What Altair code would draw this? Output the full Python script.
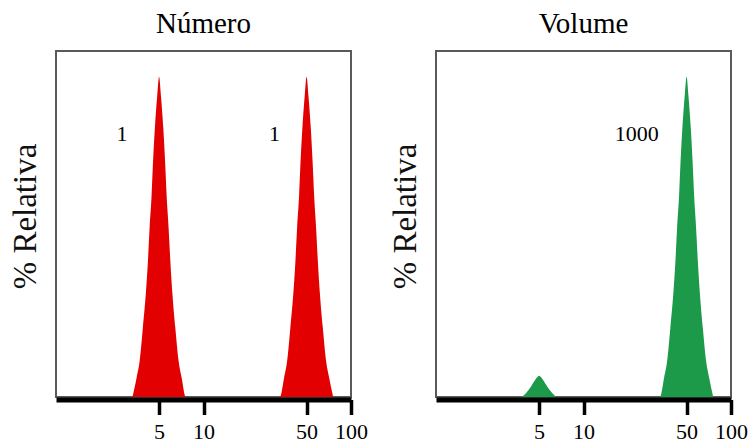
import altair as alt
import pandas as pd

# Particle size distributions (diameter, nm) on a log axis
TICKS = [5, 10, 50, 100]

# Number-weighted distribution: two equal populations at 5 nm and 50 nm
num_size = [3.30, 3.52, 3.69, 3.88, 4.06, 4.20, 4.31, 4.45, 4.55, 4.68, 4.86, 5.00,
            5.14, 5.34, 5.49, 5.62, 5.80, 5.96, 6.16, 6.44, 6.78, 7.11, 7.57,
            33.0, 35.2, 36.9, 38.8, 40.6, 42.0, 43.1, 44.5, 45.5, 46.8, 48.6, 50.0,
            51.4, 53.4, 54.9, 56.2, 58.0, 59.6, 61.6, 64.4, 67.8, 71.1, 75.7]
num_pct = [0, 6.0, 11.2, 21.6, 32.0, 42.4, 52.7, 63.1, 73.5, 83.9, 94.3, 100,
           94.3, 83.9, 73.5, 63.1, 52.7, 42.4, 32.0, 21.6, 11.2, 6.0, 0,
           0, 6.0, 11.2, 21.6, 32.0, 42.4, 52.7, 63.1, 73.5, 83.9, 94.3, 100,
           94.3, 83.9, 73.5, 63.1, 52.7, 42.4, 32.0, 21.6, 11.2, 6.0, 0]

# Volume-weighted distribution: the 50 nm population dominates
vol_size = [3.77, 3.96, 4.15, 4.41, 4.70, 5.00, 5.32, 5.67, 6.03, 6.32, 6.63,
            33.0, 35.2, 36.9, 38.8, 40.6, 42.0, 43.1, 44.5, 45.5, 46.8, 48.6, 50.0,
            51.4, 53.4, 54.9, 56.2, 58.0, 59.6, 61.6, 64.4, 67.8, 71.1, 75.7]
vol_pct = [0, 0.66, 1.65, 3.3, 5.3, 6.6, 5.3, 3.3, 1.65, 0.66, 0,
           0, 6.0, 11.2, 21.6, 32.0, 42.4, 52.7, 63.1, 73.5, 83.9, 94.3, 100,
           94.3, 83.9, 73.5, 63.1, 52.7, 42.4, 32.0, 21.6, 11.2, 6.0, 0]

# Relative weight annotations
num_label_size = [2.8, 30.3]
num_label_pct = [82, 82]
num_label_text = ["1", "1"]
vol_label_size = [23.0]
vol_label_pct = [82]
vol_label_text = ["1000"]

SERIF = "Liberation Serif"

x_scale = alt.Scale(type="log", domain=[1, 100], nice=False)
y_scale = alt.Scale(domain=[0, 108], nice=False, zero=True)

x_axis = alt.Axis(values=TICKS, format="d", title=None, grid=False,
                  domainColor="black", domainWidth=5, offset=2.5,
                  tickColor="black", tickWidth=3.5, tickSize=15,
                  labelFont=SERIF, labelFontSize=22, labelColor="black",
                  labelPadding=7, labelFlush=False, labelOverlap=False,
                  labelBound=False)
y_axis = alt.Axis(title="% Relativa", titleFont=SERIF, titleFontSize=33,
                  titleFontWeight="normal", titleColor="#111111",
                  ticks=False, labels=False, domain=False, grid=False,
                  titlePadding=14, titleY=165)


def panel(title, sizes, pcts, lsize, lpct, ltext, color):
    curve = pd.DataFrame({"size": sizes, "pct": pcts})
    notes = pd.DataFrame({"size": lsize, "pct": lpct, "text": ltext})
    area = alt.Chart(curve).mark_area(color=color, opacity=1,
                                      interpolate="monotone").encode(
        x=alt.X("size:Q", scale=x_scale, axis=x_axis),
        y=alt.Y("pct:Q", scale=y_scale, axis=y_axis),
    )
    text = alt.Chart(notes).mark_text(font=SERIF, fontSize=22, color="black",
                                      baseline="middle", align="center").encode(
        x=alt.X("size:Q", scale=x_scale),
        y=alt.Y("pct:Q", scale=y_scale),
        text="text:N",
    )
    return alt.layer(area, text).properties(
        width=295, height=346,
        title=alt.TitleParams(title, font=SERIF, fontSize=29,
                              fontWeight="normal", color="black",
                              anchor="middle", offset=12),
    )


left = panel("Número", num_size, num_pct, num_label_size, num_label_pct,
             num_label_text, "#e30000")
right = panel("Volume", vol_size, vol_pct, vol_label_size, vol_label_pct,
              vol_label_text, "#1c9a4a")

chart = alt.hconcat(left, right, spacing=85, bounds="flush").configure_view(
    stroke="#5a5a5a", strokeWidth=2
).properties(
    padding={"left": 8, "top": 9, "right": 0, "bottom": 0},
    background="white",
)

chart.save("out.html", embed_options={"renderer": "svg", "actions": False})
